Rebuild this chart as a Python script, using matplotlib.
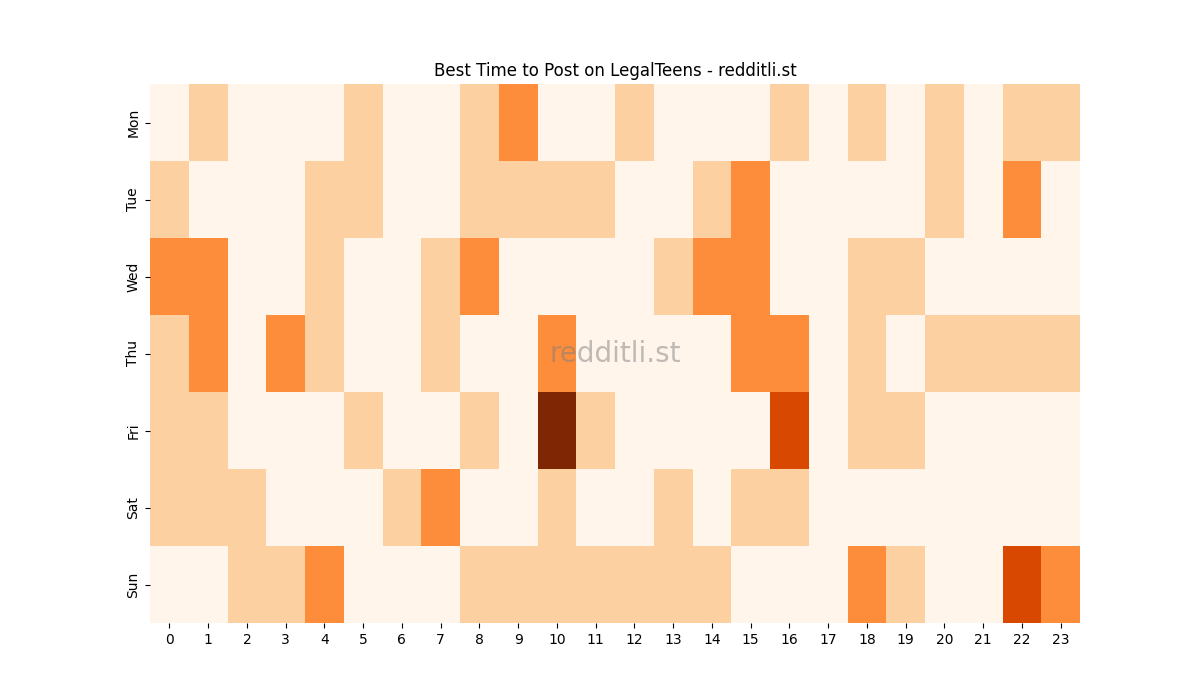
import matplotlib
matplotlib.use("Agg")
import matplotlib.pyplot as plt
import seaborn as sns
import numpy as np

days = ["Mon", "Tue", "Wed", "Thu", "Fri", "Sat", "Sun"]
hours = list(range(24))
mon = [0,1,0,0,0,1,0,0,1,2,0,0,1,0,0,0,1,0,1,0,1,0,1,1]
tue = [1,0,0,0,1,1,0,0,1,1,1,1,0,0,1,2,0,0,0,0,1,0,2,0]
wed = [2,2,0,0,1,0,0,1,2,0,0,0,0,1,2,2,0,0,1,1,0,0,0,0]
thu = [1,2,0,2,1,0,0,1,0,0,2,0,0,0,0,2,2,0,1,0,1,1,1,1]
fri = [1,1,0,0,0,1,0,0,1,0,4,1,0,0,0,0,3,0,1,1,0,0,0,0]
sat = [1,1,1,0,0,0,1,2,0,0,1,0,0,1,0,1,1,0,0,0,0,0,0,0]
sun = [0,0,1,1,2,0,0,0,1,1,1,1,1,1,1,0,0,0,2,1,0,0,3,2]

data = np.array([mon, tue, wed, thu, fri, sat, sun])

fig = plt.figure(figsize=(12, 7), dpi=100)
ax = fig.add_subplot(111)
sns.heatmap(data, cmap="Oranges", vmin=0, vmax=4, cbar=False, ax=ax,
            xticklabels=hours, yticklabels=days)
ax.set_title("Best Time to Post on LegalTeens - redditli.st")
ax.text(0.5, 0.5, "redditli.st", transform=ax.transAxes, ha="center", va="center",
        fontsize=20, color="gray", alpha=0.5)
plt.savefig("out.png")
